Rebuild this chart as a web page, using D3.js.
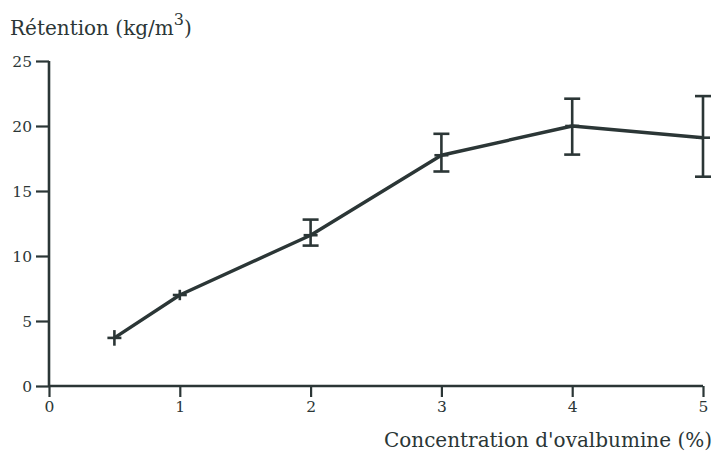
<!DOCTYPE html>
<html><head><meta charset="utf-8">
<script src="https://cdn.jsdelivr.net/npm/d3@7"></script>
<style>body{margin:0;background:#fff}svg{display:block}text{font-family:"DejaVu Serif","Liberation Serif",serif;fill:#2b3636}</style>
</head><body>
<svg id="c" width="718" height="453"></svg>
<script>
const conc = [0.5, 1, 2, 3, 4, 5];
const retention = [3.7, 7.0, 11.6, 17.75, 20.0, 19.1];
const errLow = [3.1, 6.6, 10.8, 16.5, 17.8, 16.1];
const errHigh = [4.3, 7.4, 12.8, 19.4, 22.1, 22.3];
const xTicks = [0, 1, 2, 3, 4, 5];
const yTicks = [0, 5, 10, 15, 20, 25];

const ink = "#2b3636";
const svg = d3.select("#c");
const x = d3.scaleLinear().domain([0, 5]).range([49, 703]);
const y = d3.scaleLinear().domain([0, 25]).range([386, 61]);

const xAxis = svg.append("g").attr("transform", `translate(0,${y(0)})`)
  .call(d3.axisBottom(x).tickValues(xTicks).tickFormat(d3.format("d")).tickSize(11).tickPadding(4).tickSizeOuter(0));
const yAxis = svg.append("g").attr("transform", `translate(${x(0)},0)`)
  .call(d3.axisLeft(y).tickValues(yTicks).tickFormat(d3.format("d")).tickSize(13).tickPadding(4).tickSizeOuter(0));
[xAxis, yAxis].forEach(a => {
  a.select(".domain").attr("stroke", ink).attr("stroke-width", 2.6);
  a.selectAll(".tick line").attr("stroke", ink).attr("stroke-width", 2.2);
  a.selectAll(".tick text").style("font-family", '"DejaVu Serif",serif').style("font-size", "15.5px").attr("fill", ink);
});
xAxis.select(".domain").attr("d", `M${x(0)},0H${x(5)}`);
yAxis.select(".domain").attr("d", `M0,${y(0)}V${y(25)}`);
yAxis.selectAll(".tick text").attr("dy", "0.36em");

const pts = conc.map((c, i) => ({c, v: retention[i], lo: errLow[i], hi: errHigh[i]}));
const line = d3.line().x(d => x(d.c)).y(d => y(d.v));
svg.append("path").datum(pts).attr("d", line).attr("fill", "none")
  .attr("stroke", ink).attr("stroke-width", 3.4).attr("stroke-linejoin", "round");

const g = svg.append("g").selectAll("g").data(pts).join("g");
g.append("line").attr("x1", d => x(d.c)).attr("x2", d => x(d.c))
  .attr("y1", d => y(d.hi)).attr("y2", d => y(d.lo)).attr("stroke", ink).attr("stroke-width", 2.6);
g.filter((d, i) => i >= 2).selectAll("line.cap").data(d => [d.hi, d.lo].map(v => ({c: d.c, v})))
  .join("line").attr("x1", d => x(d.c) - 8).attr("x2", d => x(d.c) + 8)
  .attr("y1", d => y(d.v)).attr("y2", d => y(d.v)).attr("stroke", ink).attr("stroke-width", 2.6);
g.append("line").attr("x1", d => x(d.c) - 7).attr("x2", d => x(d.c) + 7)
  .attr("y1", d => y(d.v)).attr("y2", d => y(d.v)).attr("stroke", ink).attr("stroke-width", 2.6);

const t = svg.append("text").attr("x", 10).attr("y", 35).style("font-size", "20px");
t.append("tspan").text("Rétention (kg/m");
t.append("tspan").attr("dy", -10).style("font-size", "16px").text("3");
t.append("tspan").attr("dy", 10).text(")");

svg.append("text").attr("x", 712).attr("y", 447).attr("text-anchor", "end")
  .style("font-size", "20px").text("Concentration d'ovalbumine (%)");
</script>
</body></html>
